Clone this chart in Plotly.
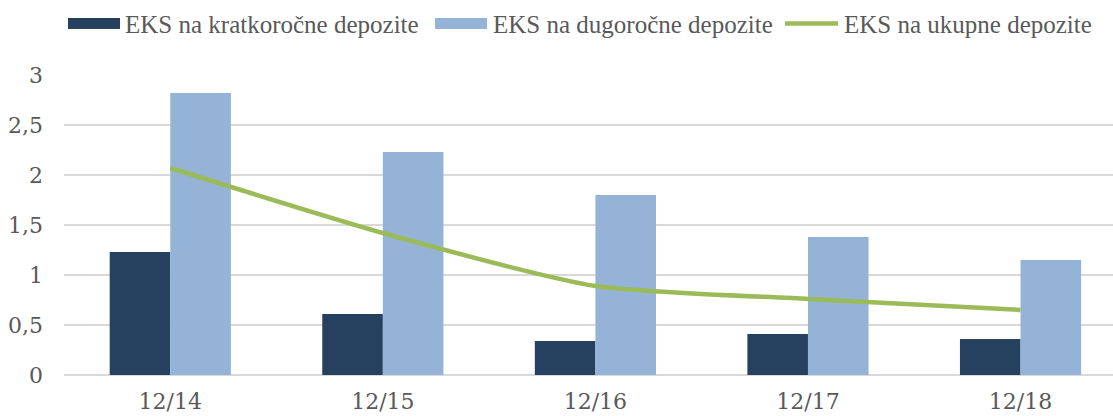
import plotly.graph_objects as go

categories = ["12/14", "12/15", "12/16", "12/17", "12/18"]
short_term = [1.23, 0.61, 0.34, 0.41, 0.36]
long_term = [2.82, 2.23, 1.80, 1.38, 1.15]
total = [2.07, 1.42, 0.89, 0.76, 0.65]
y_ticks = [0, 0.5, 1, 1.5, 2, 2.5, 3]
y_tick_text = ["0", "0,5", "1", "1,5", "2", "2,5", "3"]

names = ["EKS na kratkoročne depozite", "EKS na dugoročne depozite", "EKS na ukupne depozite"]
c_dark = "#26405F"
c_light = "#95B3D7"
c_green = "#9BBB59"
txt = "#595959"
tick_font = dict(family="DejaVu Serif", size=22, color=txt)

fig = go.Figure()
fig.add_trace(go.Bar(x=categories, y=short_term, name=names[0], marker=dict(color=c_dark, line=dict(width=0)), showlegend=False))
fig.add_trace(go.Bar(x=categories, y=long_term, name=names[1], marker=dict(color=c_light, line=dict(width=0)), showlegend=False))
fig.add_trace(go.Scatter(x=categories, y=total, name=names[2], mode="lines",
                         line=dict(color=c_green, width=4.5, shape="spline", smoothing=0.6), showlegend=False))

W, H = 1113, 416
ml, mr, mt, mb = 64, 0, 75, 41
pw, ph = W - ml - mr, H - mt - mb

def px(x):
    return (x - ml) / pw

def py(y):
    return 1 - (y - mt) / ph

shapes = []
annotations = []
legend_items = [
    (names[0], "bar", c_dark, 68, 120, 124),
    (names[1], "bar", c_light, 435, 487, 492),
    (names[2], "line", c_green, 785, 838, 843),
]
for name, kind, col, x0, x1, tx in legend_items:
    if kind == "bar":
        shapes.append(dict(type="rect", xref="paper", yref="paper", x0=px(x0), x1=px(x1),
                           y0=py(29), y1=py(18), fillcolor=col, line=dict(width=0)))
    else:
        shapes.append(dict(type="line", xref="paper", yref="paper", x0=px(x0), x1=px(x1),
                           y0=py(23.5), y1=py(23.5), line=dict(color=col, width=4.5)))
    annotations.append(dict(text=name, xref="paper", yref="paper", x=px(tx), y=py(25),
                            xanchor="left", yanchor="middle", showarrow=False, borderpad=0,
                            font=dict(family="Liberation Serif", size=25, color=txt)))

fig.update_layout(
    width=W, height=H,
    margin=dict(l=ml, r=mr, t=mt, b=mb, autoexpand=False),
    paper_bgcolor="white", plot_bgcolor="white",
    barmode="group", bargap=0.43, bargroupgap=0,
    shapes=shapes, annotations=annotations,
    xaxis=dict(range=[-0.5, 4.435], showgrid=False, showline=False, ticks="", automargin=False,
               tickfont=tick_font, ticklabelstandoff=11, zeroline=False),
    yaxis=dict(range=[0, 3], tickvals=y_ticks, ticktext=y_tick_text, showgrid=True, automargin=False,
               gridcolor="#D9D9D9", gridwidth=1.5, zeroline=True, zerolinecolor="#D9D9D9",
               zerolinewidth=1.5, showline=False, ticks="", tickfont=tick_font,
               ticklabelstandoff=20),
)

fig.write_html("out.html", config={"displayModeBar": False},
               post_script="document.body.style.margin='0px';document.body.style.overflow='hidden';")
